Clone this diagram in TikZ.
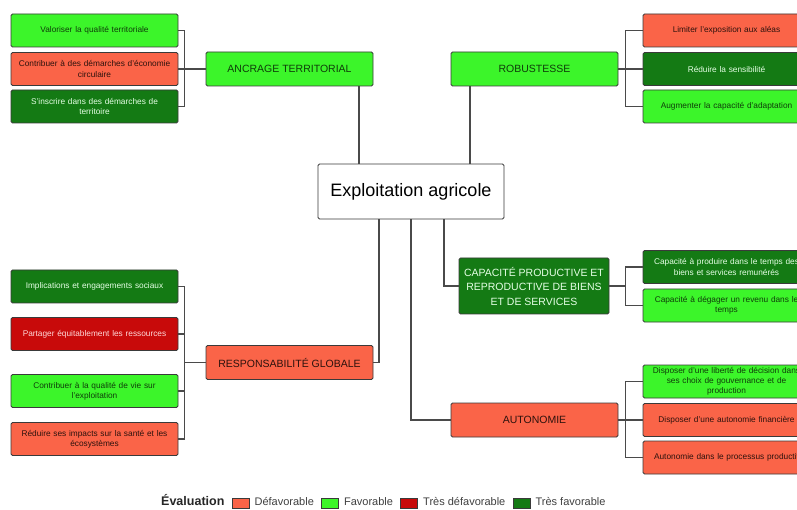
\documentclass[tikz,border=0pt]{standalone}
\usepackage{fontspec}
\setmainfont{Liberation Sans}
\usetikzlibrary{positioning}
\definecolor{cDefav}{HTML}{FA6448}
\definecolor{cFav}{HTML}{3CF52A}
\definecolor{cTdefav}{HTML}{C80A0A}
\definecolor{cTfav}{HTML}{147A14}
\definecolor{cBord}{HTML}{3A3A3A}
\definecolor{cTrait}{HTML}{4A4A4A}
\tikzset{
	boite/.style={draw=cBord, line width=0.9pt, rounded corners=1.5pt, align=center, inner sep=2pt},
	critere/.style={boite, minimum width=167pt, minimum height=33pt, text width=160pt, font=\fontsize{8.3}{10.2}\selectfont},
	axe/.style={boite, minimum width=167pt, minimum height=34pt, font=\fontsize{10.5}{14.5}\selectfont},
	defav/.style={fill=cDefav, text=black!70!cDefav!60!black},
	fav/.style={fill=cFav, text=black!75!cFav},
	tdefav/.style={fill=cTdefav, text=red!15!white},
	tfav/.style={fill=cTfav, text=green!10!white},
	lien/.style={draw=cTrait, line width=1.2pt},
	pastille/.style={draw=cBord, line width=0.8pt, minimum width=17pt, minimum height=10pt, inner sep=0pt},
	legtxt/.style={font=\fontsize{11}{13}\selectfont, text=black!75, inner sep=0pt, text height=8pt, text depth=2.5pt}
}
\begin{document}
\begin{tikzpicture}[x=1pt,y=-1pt]
	\useasboundingbox (0,0) rectangle (797,510);
	\fill[white] (0,0) rectangle (797,510);
	\clip (0,0) rectangle (797,510);
	%Noeud central
	\node[boite, fill=white, minimum width=186pt, minimum height=55pt, font=\fontsize{18}{20}\selectfont] (centre) at (411,191.5) {Exploitation agricole};
	%Axes
	\node[axe,fav] (ancrage) at (289.5,69) {ANCRAGE TERRITORIAL};
	\node[axe,fav] (robust) at (534.5,69) {ROBUSTESSE};
	\node[axe,tfav, minimum width=150pt, minimum height=56pt] (capa) at (534,286) {CAPACITÉ PRODUCTIVE ET\\REPRODUCTIVE DE BIENS\\ET DE SERVICES};
	\node[axe,defav] (auto) at (534.5,420) {AUTONOMIE};
	\node[axe,defav] (resp) at (289.5,362.5) {RESPONSABILITÉ GLOBALE};
	%Criteres
	\node[critere,fav] (valo) at (94.5,30.5) {Valoriser la qualité territoriale};
	\node[critere,defav] (circu) at (94.5,69) {Contribuer à des démarches d'économie\\circulaire};
	\node[critere,tfav] (terri) at (94.5,106.5) {S'inscrire dans des démarches de\\territoire};
	\node[critere,defav] (alea) at (726.5,30.5) {Limiter l'exposition aux aléas};
	\node[critere,tfav] (sensi) at (726.5,69) {Réduire la sensibilité};
	\node[critere,fav] (adapt) at (726.5,106.5) {Augmenter la capacité d'adaptation};
	\node[critere,tfav] (prod) at (726.5,267) {Capacité à produire dans le temps des\\biens et services remunérés};
	\node[critere,fav] (revenu) at (726.5,305.5) {Capacité à dégager un revenu dans le\\temps};
	\node[critere,fav] (liberte) at (726.5,381.5) {Disposer d'une liberté de décision dans\\ses choix de gouvernance et de\\production};
	\node[critere,defav] (finan) at (726.5,420) {Disposer d'une autonomie financière};
	\node[critere,defav] (proces) at (726.5,457.5) {Autonomie dans le processus productif};
	\node[critere,tfav] (social) at (94.5,286.5) {Implications et engagements sociaux};
	\node[critere,tdefav] (partage) at (94.5,334) {Partager équitablement les ressources};
	\node[critere,fav] (vie) at (94.5,391) {Contribuer à la qualité de vie sur\\l'exploitation};
	\node[critere,defav] (sante) at (94.5,439) {Réduire ses impacts sur la santé et les\\écosystèmes};
	%Liens du centre vers les axes
	\draw[lien] ([xshift=-52pt]centre.north) -- ([xshift=-52pt]centre.north |- ancrage.south);
	\draw[lien] ([xshift=59pt]centre.north) -- ([xshift=59pt]centre.north |- robust.south);
	\draw[lien] (resp.east) -| ([xshift=-32pt]centre.south);
	\draw[lien] (auto.west) -| (centre.south);
	\draw[lien] (capa.west) -| ([xshift=33pt]centre.south);
	%Liens des axes vers les criteres
	\foreach \s in {valo,circu,terri} \draw[lien] (ancrage.west) -- ++(-21,0) |- (\s.east);
	\foreach \s in {alea,sensi,adapt} \draw[lien] (robust.east) -- ++(7,0) |- (\s.west);
	\foreach \s in {prod,revenu} \draw[lien] (capa.east) -- ++(16,0) |- (\s.west);
	\foreach \s in {liberte,finan,proces} \draw[lien] (auto.east) -- ++(7,0) |- (\s.west);
	\foreach \s in {social,partage,vie,sante} \draw[lien] (resp.west) -- ++(-21,0) |- (\s.east);
	%Legende
	\node[legtxt, font=\bfseries\fontsize{12.5}{14}\selectfont, text=black!85, anchor=west] (leg) at (161,503) {Évaluation};
	\node[pastille, fill=cDefav, right=7pt of leg] (p1) {};
	\node[legtxt, right=5pt of p1] (t1) {Défavorable};
	\node[pastille, fill=cFav, right=7pt of t1] (p2) {};
	\node[legtxt, right=5pt of p2] (t2) {Favorable};
	\node[pastille, fill=cTdefav, right=7pt of t2] (p3) {};
	\node[legtxt, right=5pt of p3] (t3) {Très défavorable};
	\node[pastille, fill=cTfav, right=7pt of t3] (p4) {};
	\node[legtxt, right=5pt of p4] (t4) {Très favorable};
\end{tikzpicture}
\end{document}
